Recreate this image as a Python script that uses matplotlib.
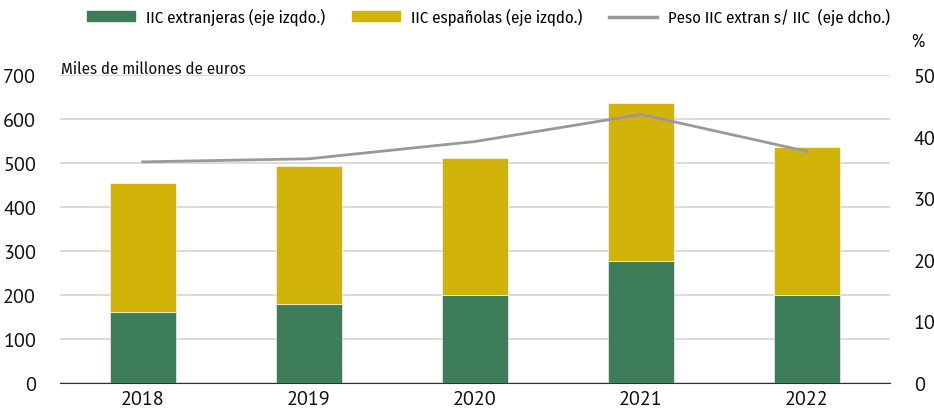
import numpy as np
import matplotlib.pyplot as plt
from matplotlib.patches import Patch
from matplotlib.lines import Line2D

plt.rcParams['font.family'] = ['PT Sans', 'DejaVu Sans']
narrow = ['Fira Sans Condensed', 'DejaVu Sans']

# Data
years = ['2018', '2019', '2020', '2021', '2022']
iic_extranjeras = [161, 180, 200, 277, 200]
iic_espanolas = [293, 313, 311, 359, 336]
peso_extran = [35.9, 36.4, 39.2, 43.6, 37.6]

green = '#3d7d5a'
yellow = '#d1b30a'
grey = '#999999'
grid_c = '#d8d5cb'

fig = plt.figure(figsize=(9.34, 4.10), dpi=100)
ax = fig.add_axes([0.064, 0.0634, 0.889, 0.7512])
ax2 = ax.twinx()

x = np.arange(len(years))
ax.bar(x, iic_extranjeras, width=0.4, color=green, edgecolor='white', linewidth=0.4, zorder=3)
ax.bar(x, iic_espanolas, width=0.4, bottom=iic_extranjeras, color=yellow,
       edgecolor='white', linewidth=0.4, zorder=3)
ax2.plot(x, peso_extran, color=grey, linewidth=2, zorder=4)

ax.set_xlim(-0.5, 4.5)
ax.set_ylim(0, 700)
ax.set_yticks(range(0, 701, 100))
ax2.set_ylim(0, 50)
ax2.set_yticks(range(0, 51, 10))
ax.set_xticks(x)
ax.set_xticklabels(years)
ax.yaxis.grid(True, color=grid_c, linewidth=1.2, zorder=0)
ax.set_axisbelow(True)

for a in (ax, ax2):
    for s in a.spines.values():
        s.set_visible(False)
    a.tick_params(length=0, labelsize=14.5, colors='#111111')
ax.spines['bottom'].set_visible(True)
ax.spines['bottom'].set_color('#333333')
ax.spines['bottom'].set_linewidth(0.8)
ax.tick_params(axis='y', pad=17)
ax2.tick_params(axis='y', pad=17)
ax.tick_params(axis='x', pad=5)

fig.text(0.065, 0.82, 'Miles de millones de euros', fontsize=12, color='#111111', family=narrow)
fig.text(0.99, 0.885, '%', fontsize=13, color='#111111', ha='right', family=narrow)

handles = [Patch(color=green), Patch(color=yellow), Line2D([0], [0], color=grey, lw=2.5)]
labels = ['IIC extranjeras (eje izqdo.)', 'IIC españolas (eje izqdo.)',
          'Peso IIC extran s/ IIC  (eje dcho.)']
fig.legend(handles, labels, loc='upper left', bbox_to_anchor=(0.077, 1.015), ncol=3,
           frameon=False, prop={'family': narrow, 'size': 12}, handlelength=2.9,
           handleheight=0.5, columnspacing=1.6, handletextpad=0.65)

fig.savefig('out.png', dpi=100)
